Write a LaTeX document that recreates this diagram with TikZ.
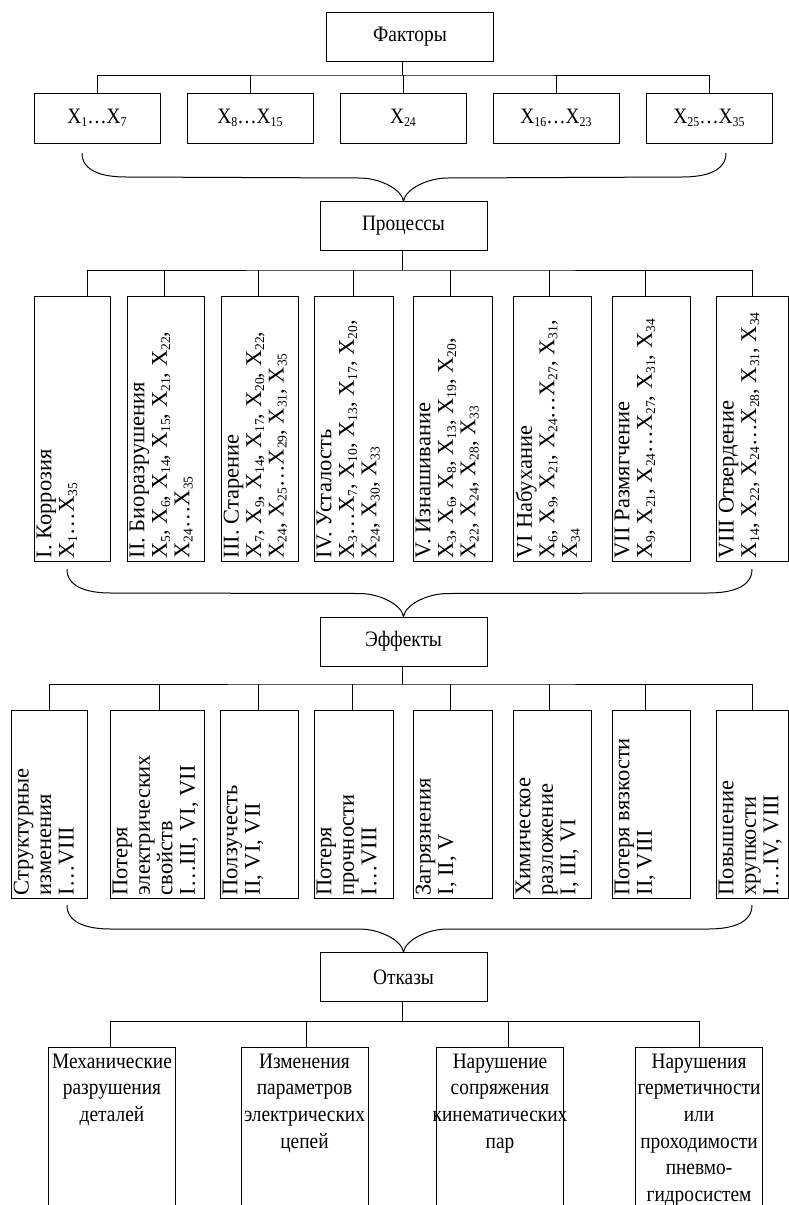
\documentclass[tikz,border=0pt]{standalone}
\usepackage{fontspec}
\setmainfont{Liberation Serif}
\newfontfamily\narrowfont{Liberation Serif}[FakeStretch=0.88]
\usetikzlibrary{calc}
\newcommand{\Xs}[1]{X\raisebox{-0.3ex}{\fontsize{13.5}{14}\selectfont #1}}

\begin{document}
\begin{tikzpicture}
  [x=1pt, y=-1pt,
    block/.style={draw=black, line width=1pt, inner sep=0pt},
    headbox/.style={block, minimum width=167pt, minimum height=49pt,
      font=\narrowfont\fontsize{22}{24}\selectfont},
    xbox/.style={block, minimum width=126pt, minimum height=50pt,
      font=\narrowfont\fontsize{22}{24}\selectfont},
    pbox/.style={block, minimum height=265pt},
    ebox/.style={block, minimum height=188pt},
    obox/.style={block, minimum width=127pt, minimum height=180pt},
    vlabel/.style={rotate=90, anchor=north west, align=left, inner sep=3pt,
      font=\fontsize{22.5}{22.5}\selectfont},
    olabel/.style={anchor=north, align=center, inner sep=3pt, yshift=-4pt,
      font=\narrowfont\fontsize{22}{26.7}\selectfont},
    link/.style={line width=1pt},
    brace/.style={line width=1pt}
  ]
  \useasboundingbox (0,0) rectangle (789,1205);
  \clip (0,0) rectangle (789,1205);

  % factors
  \node[headbox] (fac) at (410,36.5) {Факторы};
  \node[xbox] (f1) at (97,118) {\Xs{1}\ldots\Xs{7}};
  \node[xbox] (f2) at (250,118) {\Xs{8}\ldots\Xs{15}};
  \node[xbox] (f3) at (403,118) {\Xs{24}};
  \node[xbox] (f4) at (556,118) {\Xs{16}\ldots\Xs{23}};
  \node[xbox] (f5) at (709,118) {\Xs{25}\ldots\Xs{35}};
  \coordinate (fbus) at (402,75);
  \draw[link] (fac.south -| fbus) -- (fbus);
  \draw[link] (f1.north) |- (fbus) -| (f5.north);
  \foreach \n in {f2,f3,f4}
    \draw[link] (\n.north) -- (\n.north |- fbus);

  % processes
  \node[headbox] (proc) at (403.5,226) {Процессы};
  \node[pbox, minimum width=76pt] (p1) at (72,428.5) {};
  \node[pbox, minimum width=77pt] (p2) at (165.5,428.5) {};
  \node[pbox, minimum width=77pt] (p3) at (259.5,428.5) {};
  \node[pbox, minimum width=79pt] (p4) at (353.5,428.5) {};
  \node[pbox, minimum width=79pt] (p5) at (452.5,428.5) {};
  \node[pbox, minimum width=78pt] (p6) at (552,428.5) {};
  \node[pbox, minimum width=78pt] (p7) at (651,428.5) {};
  \node[pbox, minimum width=72pt] (p8) at (752,428.5) {};
  \node[vlabel] (p1t) at (p1.south west) {I. Коррозия\\\Xs{1}\ldots\Xs{35}};
  \node[vlabel] (p2t) at (p2.south west) {II. Биоразрушения\\\Xs{5}, \Xs{6}, \Xs{14}, \Xs{15}, \Xs{21}, \Xs{22},\\\Xs{24}\ldots\Xs{35}};
  \node[vlabel] (p3t) at (p3.south west) {III. Старение\\\Xs{7}, \Xs{9}, \Xs{14}, \Xs{17}, \Xs{20}, \Xs{22},\\\Xs{24}, \Xs{25}\ldots\Xs{29}, \Xs{31}, \Xs{35}};
  \node[vlabel] (p4t) at (p4.south west) {IV. Усталость\\\Xs{3}\ldots\Xs{7}, \Xs{10}, \Xs{13}, \Xs{17}, \Xs{20},\\\Xs{24}, \Xs{30}, \Xs{33}};
  \node[vlabel] (p5t) at (p5.south west) {V. Изнашивание\\\Xs{3}, \Xs{6}, \Xs{8}, \Xs{13}, \Xs{19}, \Xs{20},\\\Xs{22}, \Xs{24}, \Xs{28}, \Xs{33}};
  \node[vlabel] (p6t) at (p6.south west) {VI Набухание\\\Xs{6}, \Xs{9}, \Xs{21}, \Xs{24}\ldots\Xs{27}, \Xs{31},\\\Xs{34}};
  \node[vlabel] (p7t) at (p7.south west) {VII Размягчение\\\Xs{9}, \Xs{21}, \Xs{24}\ldots\Xs{27}, \Xs{31}, \Xs{34}};
  \node[vlabel] (p8t) at (p8.south west) {VIII Отвердение\\\Xs{14}, \Xs{22}, \Xs{24}\ldots\Xs{28}, \Xs{31}, \Xs{34}};
  \coordinate (pbus) at (402,270);
  \draw[link] (proc.south -| pbus) -- (pbus);
  \draw[link] (p1.north) ++(15,0) |- (pbus) -| (p8.north);
  \foreach \n/\s in {p2/-1,p3/-1,p4/0,p5/-2,p6/-3,p7/-6}
    \draw[link] (\n.north) ++(\s,0) -- ++(0,-26);

  % effects
  \node[headbox] (eff) at (403.5,641.5) {Эффекты};
  \node[ebox, minimum width=76pt] (e1) at (49,804) {};
  \node[ebox, minimum width=94pt] (e2) at (157,804) {};
  \node[ebox, minimum width=78pt] (e3) at (259,804) {};
  \node[ebox, minimum width=79pt] (e4) at (353.5,804) {};
  \node[ebox, minimum width=79pt] (e5) at (452.5,804) {};
  \node[ebox, minimum width=78pt] (e6) at (552,804) {};
  \node[ebox, minimum width=78pt] (e7) at (651,804) {};
  \node[ebox, minimum width=72pt] (e8) at (752,804) {};
  \node[vlabel] (e1t) at (e1.south west) {Структурные\\изменения\\I\ldots VIII};
  \node[vlabel] (e2t) at (e2.south west) {Потеря\\электрических\\свойств\\I\ldots III, VI, VII};
  \node[vlabel] (e3t) at (e3.south west) {Ползучесть\\II, VI, VII};
  \node[vlabel] (e4t) at (e4.south west) {Потеря\\прочности\\I\ldots VIII};
  \node[vlabel] (e5t) at (e5.south west) {Загрязнения\\I, II, V};
  \node[vlabel] (e6t) at (e6.south west) {Химическое\\разложение\\I, III, VI};
  \node[vlabel] (e7t) at (e7.south west) {Потеря вязкости\\II, VIII};
  \node[vlabel] (e8t) at (e8.south west) {Повышение\\хрупкости\\I\ldots IV, VIII};
  \coordinate (ebus) at (402,684);
  \draw[link] (eff.south -| ebus) -- (ebus);
  \draw[link] (e1.north) |- (ebus) -| (e8.north);
  \foreach \n/\s in {e2/2,e3/-1,e4/-1,e5/-2,e6/-3,e7/-6}
    \draw[link] (\n.north) ++(\s,0) -- ++(0,-26);

  % failures
  \node[headbox] (fail) at (403.5,977) {Отказы};
  \node[obox] (o1) at (112,1137) {};
  \node[obox] (o2) at (304.5,1137) {};
  \node[obox] (o3) at (500,1137) {};
  \node[obox] (o4) at (699,1137) {};
  \node[olabel] (o1t) at (o1.north) {Механические\\разрушения\\деталей};
  \node[olabel] (o2t) at (o2.north) {Изменения\\параметров\\электрических\\цепей};
  \node[olabel] (o3t) at (o3.north) {Нарушение\\сопряжения\\кинематических\\пар};
  \node[olabel] (o4t) at (o4.north) {Нарушения\\герметичности\\или\\проходимости\\пневмо-\\гидросистем};
  \coordinate (obus) at (402,1021);
  \draw[link] (fail.south -| obus) -- (obus);
  \draw[link] (o1.north) ++(-2,0) |- (obus) -| (o4.north);
  \foreach \n/\s in {o2/1.5,o3/8}
    \draw[link] (\n.north) ++(\s,0) -- ++(0,-26);

  % braces
  \coordinate (bl1) at (82,153);  \coordinate (br1) at (726,153);
  \coordinate (bl2) at (67,569);  \coordinate (br2) at (752,569);
  \coordinate (bl3) at (67,905);  \coordinate (br3) at (752,905);
  \foreach \l/\r/\t in {bl1/br1/proc, bl2/br2/eff, bl3/br3/fail}
    \draw[brace] (\l) .. controls +(0,18) and +(-24,0) .. ($(\l)+(44,24)$)
      -- ($(\t.north)+(-44,-23)$) .. controls +(20,0) and +(-2,-12) .. (\t.north)
      .. controls +(2,-12) and +(-20,0) .. ($(\t.north)+(44,-23)$)
      -- ($(\r)+(-44,24)$) .. controls +(24,0) and +(0,18) .. (\r);
\end{tikzpicture}
\end{document}
